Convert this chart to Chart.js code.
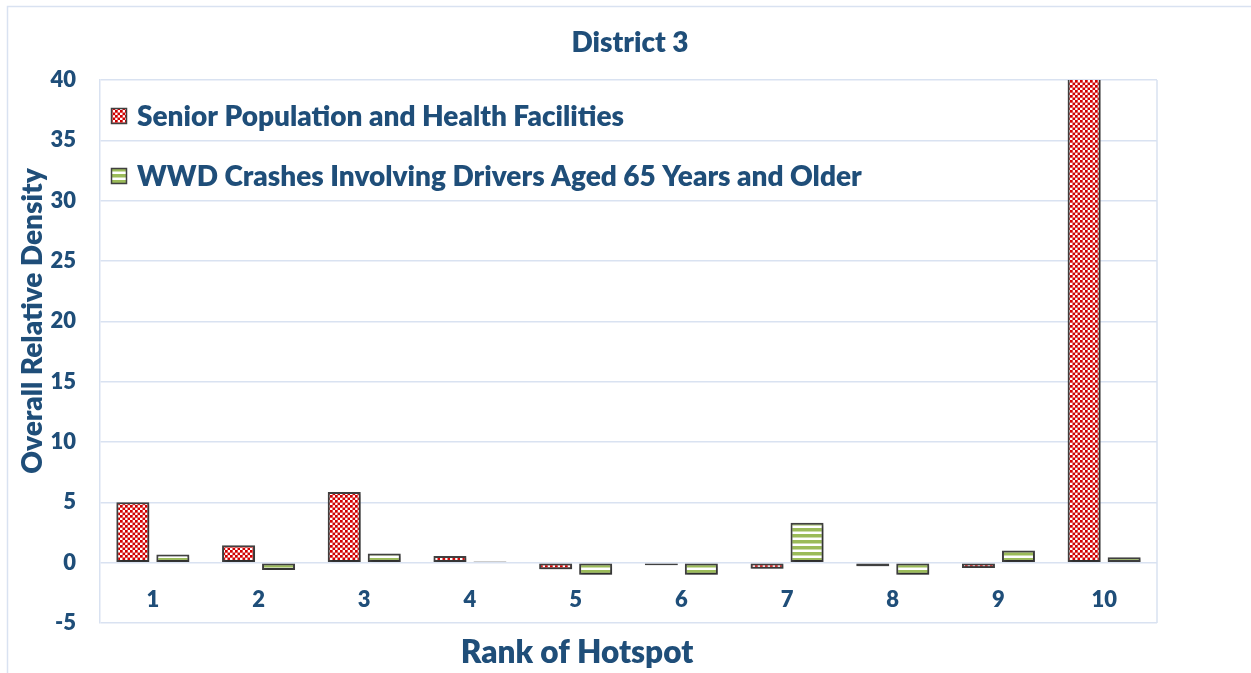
<!DOCTYPE html>
<html>
<head>
<meta charset="utf-8">
<title>District 3</title>
<script src="https://cdn.jsdelivr.net/npm/chart.js@4.4.1/dist/chart.umd.min.js"></script>
<style>
  html, body { margin: 0; padding: 0; background: #ffffff; }
  #wrap { width: 1251px; height: 673px; }
</style>
</head>
<body>
<div id="wrap"><canvas id="c" width="1251" height="673"></canvas></div>
<script>
// Hotspot ranks along the x axis
const categories = ['1', '2', '3', '4', '5', '6', '7', '8', '9', '10'];
// Overall relative density per hotspot
const seniorValues = [5.0, 1.45, 5.85, 0.55, -0.55, -0.22, -0.5, -0.3, -0.45, 45];
const wwdValues = [0.67, -0.6, 0.75, 0.1, -1.0, -1.0, 3.3, -1.0, 1.0, 0.45];
const seriesNames = [
  'Senior Population and Health Facilities',
  'WWD Crashes Involving Drivers Aged 65 Years and Older'
];
const yTicks = [-5, 0, 5, 10, 15, 20, 25, 30, 35, 40];
const chartTitle = 'District 3';
const xTitle = 'Rank of Hotspot';
const yTitle = 'Overall Relative Density';

const TEXT = '#1f4e79';
const GRID = '#d9e2f1';
const EDGE = '#404040';
const FONT = 'Lato, "Open Sans", sans-serif';
const W = '800';

const canvas = document.getElementById('c');
const ctx0 = canvas.getContext('2d');

// Small red/white checkerboard fill (cells of 2.5px)
function checkerPattern() {
  const t = document.createElement('canvas');
  t.width = 10; t.height = 10;
  const g = t.getContext('2d');
  g.fillStyle = '#ffffff'; g.fillRect(0, 0, 10, 10);
  g.fillStyle = '#d10000';
  for (let r = 0; r < 4; r++) {
    for (let k = 0; k < 4; k++) {
      if ((r + k) % 2 === 0) g.fillRect(k * 2.5, r * 2.5, 2.7, 2.7);
    }
  }
  return ctx0.createPattern(t, 'repeat');
}
// Green/white horizontal stripe fill
function stripePattern() {
  const t = document.createElement('canvas');
  t.width = 4; t.height = 6;
  const g = t.getContext('2d');
  g.fillStyle = '#ffffff'; g.fillRect(0, 0, 4, 6);
  g.fillStyle = '#9bbb59';
  g.fillRect(0, 0, 4, 3.5);
  return ctx0.createPattern(t, 'repeat');
}
const fills = [checkerPattern(), stripePattern()];

// Frame, titles, plot border and in-plot legend
const decor = {
  id: 'decor',
  beforeDraw(chart) {
    const c = chart.ctx;
    c.save();
    c.fillStyle = '#ffffff';
    c.fillRect(0, 0, chart.width, chart.height);
    c.strokeStyle = GRID;
    c.lineWidth = 1.5;
    c.strokeRect(7.5, 6.5, chart.width + 20, chart.height + 20);
    c.restore();
  },
  beforeDatasetsDraw(chart) {
    const c = chart.ctx;
    c.save();
    c.shadowColor = 'rgba(0,0,0,0.35)';
    c.shadowBlur = 3;
    c.shadowOffsetX = 1;
    c.shadowOffsetY = 2;
  },
  afterDatasetsDraw(chart) {
    chart.ctx.restore();
  },
  afterDraw(chart) {
    const c = chart.ctx;
    const a = chart.chartArea;
    c.save();
    // right edge of the plot
    c.strokeStyle = GRID;
    c.lineWidth = 1.5;
    c.beginPath();
    c.moveTo(a.right, a.top);
    c.lineTo(a.right, a.bottom);
    c.stroke();

    c.fillStyle = TEXT;
    c.textAlign = 'center';
    c.textBaseline = 'middle';
    c.font = W + ' 28px ' + FONT;
    c.fillText(chartTitle, 630, 43);

    c.font = W + ' 31.5px ' + FONT;
    c.fillText(xTitle, 577, 653);

    c.save();
    c.translate(33, 321);
    c.rotate(-Math.PI / 2);
    c.font = W + ' 28px ' + FONT;
    c.fillText(yTitle, 0, 0);
    c.restore();

    // legend entries
    c.textAlign = 'left';
    c.font = W + ' 28px ' + FONT;
    const rows = [116, 176];
    seriesNames.forEach((name, i) => {
      const y = rows[i];
      c.fillStyle = fills[i];
      c.fillRect(111, y - 8, 16, 16);
      c.strokeStyle = EDGE;
      c.lineWidth = 1.5;
      c.strokeRect(111.5, y - 7.5, 15, 15);
      c.fillStyle = TEXT;
      c.fillText(name, 137, y + 1);
    });
    c.restore();
  }
};

new Chart(canvas, {
  type: 'bar',
  data: {
    labels: categories,
    datasets: [
      {
        label: seriesNames[0],
        data: seniorValues,
        backgroundColor: fills[0],
        borderColor: EDGE,
        borderWidth: 2,
        borderSkipped: false,
        clip: 0
      },
      {
        label: seriesNames[1],
        data: wwdValues,
        backgroundColor: fills[1],
        borderColor: EDGE,
        borderWidth: 2,
        borderSkipped: false,
        clip: 0
      }
    ]
  },
  options: {
    responsive: false,
    animation: false,
    devicePixelRatio: 1,
    layout: { padding: { left: 0, top: 80, right: 94, bottom: 50 } },
    categoryPercentage: 0.757,
    barPercentage: 0.825,
    plugins: {
      legend: { display: false },
      title: { display: false },
      tooltip: { enabled: false }
    },
    scales: {
      x: {
        position: { y: 0 },
        grid: { display: false, drawTicks: false },
        border: { display: false },
        ticks: {
          color: TEXT,
          font: { family: FONT, size: 22, weight: W },
          padding: 24,
          maxRotation: 0
        }
      },
      y: {
        min: -5,
        max: 40,
        afterFit(scale) { scale.width = 100; },
        afterBuildTicks(scale) { scale.ticks = yTicks.map(v => ({ value: v })); },
        grid: { color: GRID, lineWidth: 1.5, drawTicks: false },
        border: { color: GRID, width: 1.5 },
        ticks: {
          color: TEXT,
          font: { family: FONT, size: 22, weight: W },
          padding: 24
        }
      }
    }
  },
  plugins: [decor]
});
</script>
</body>
</html>
